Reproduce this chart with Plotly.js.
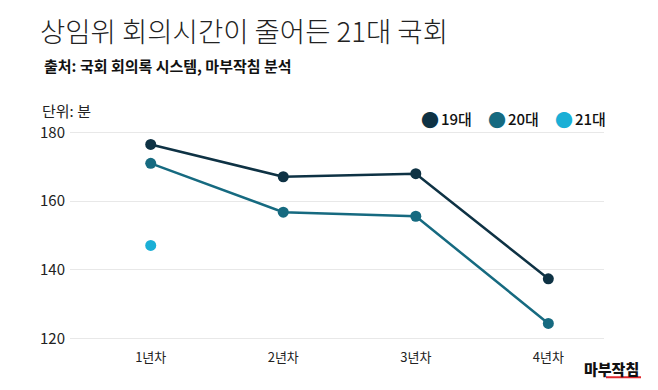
<!DOCTYPE html>
<html>
<head>
<meta charset="utf-8">
<script src="https://cdn.plot.ly/plotly-3.0.1.min.js"></script>
<style>html,body{margin:0;padding:0;background:#fff;}#chart{width:658px;height:390px;}</style>
</head>
<body>
<div id="chart"></div>
<script>
const categories = ["1년차", "2년차", "3년차", "4년차"];
const seriesNames = ["19대", "20대", "21대"];
const values19 = [176.5, 167.1, 168.0, 137.4];
const values20 = [171.0, 156.8, 155.6, 124.4];
const values21 = [147.1, null, null, null];
const yTicks = [120, 140, 160, 180];
const colors = ["#0e3244", "#166a80", "#1aafd6"];

const FONT = '"Noto Sans CJK KR", "Noto Sans", sans-serif';
const allValues = [values19, values20, values21];

const traces = allValues.map((vals, i) => ({
  type: "scatter",
  mode: "lines+markers",
  x: categories,
  y: vals,
  name: seriesNames[i],
  line: {color: colors[i], width: 2.5},
  marker: {color: colors[i], size: 11},
  showlegend: false,
  hoverinfo: "x+y+name"
}));

const px = (x) => (x - 70) / 534;
const py = (y) => (390 - 48.3 - y) / 213.2;

const legendX = [430, 497, 564];
const annotations = [
  {text: "출처: 국회 회의록 시스템, 마부작침 분석", xref: "paper", yref: "paper",
   x: px(42), y: py(65), xanchor: "left", yanchor: "middle",
   showarrow: false, font: {family: FONT, size: 15, color: "#111", weight: 700}},
  {text: "단위: 분", xref: "paper", yref: "paper",
   x: px(40), y: py(110), xanchor: "left", yanchor: "middle",
   showarrow: false, font: {family: FONT, size: 15, color: "#222"}},
  {text: "마부작침", xref: "paper", yref: "paper",
   x: px(641), y: py(368), xanchor: "right", yanchor: "middle",
   showarrow: false, font: {family: FONT, size: 15, color: "#111", weight: 900}}
];
seriesNames.forEach((n, i) => {
  annotations.push({
    text: "●", xref: "paper", yref: "paper",
    x: px(legendX[i]), y: py(118), xanchor: "center", yanchor: "middle", showarrow: false,
    font: {family: FONT, size: 18, color: colors[i]}
  });
  annotations.push({
    text: n, xref: "paper", yref: "paper",
    x: px(legendX[i] + 9), y: py(118), xanchor: "left", yanchor: "middle", showarrow: false,
    font: {family: FONT, size: 15, color: "#111", weight: 500}
  });
});

const layout = {
  width: 658, height: 390,
  margin: {l: 70, r: 54, t: 128.5, b: 48.3},
  paper_bgcolor: "#fff", plot_bgcolor: "#fff",
  title: {text: "상임위 회의시간이 줄어든 21대 국회", x: 40 / 658, xanchor: "left",
          y: 1 - 32 / 390, yanchor: "middle", yref: "container",
          font: {family: FONT, size: 27.5, color: "#222", weight: 300}},
  xaxis: {type: "category", range: [-0.609, 3.42], showgrid: false, zeroline: false,
          showline: false, ticks: "", tickfont: {family: FONT, size: 13, color: "#222"},
          ticklabelstandoff: 6},
  yaxis: {range: [119, 181], tickvals: yTicks, ticktext: yTicks.map(String),
          showgrid: true, gridcolor: "#e8e8e8", gridwidth: 1, zeroline: false,
          showline: false, ticks: "", tickfont: {family: FONT, size: 15, color: "#222"},
          ticklabelstandoff: 4},
  shapes: [{type: "line", xref: "paper", yref: "paper",
            x0: px(606), x1: px(641), y0: py(377), y1: py(377),
            line: {color: "#e0262c", width: 2}}],
  annotations: annotations,
  showlegend: false
};

Plotly.newPlot("chart", traces, layout, {displayModeBar: false, staticPlot: true});
</script>
</body>
</html>
